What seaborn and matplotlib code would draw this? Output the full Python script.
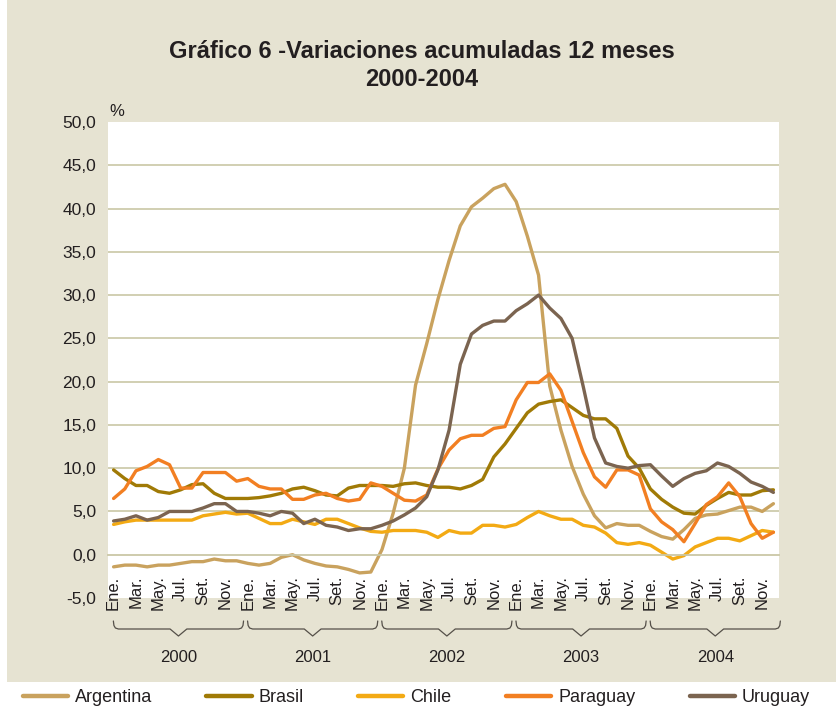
import matplotlib
matplotlib.use("Agg")
import matplotlib.pyplot as plt
from matplotlib.patches import Rectangle
import numpy as np
import pandas as pd
import seaborn as sns

# datos mensuales ene-2000 .. dic-2004 (variación 12 meses, %)
years = ["2000", "2001", "2002", "2003", "2004"]
month_labels = ["Ene.", "Mar.", "May.", "Jul.", "Set.", "Nov."]
y_ticks = [-5, 0, 5, 10, 15, 20, 25, 30, 35, 40, 45, 50]
countries = ["Argentina", "Brasil", "Chile", "Paraguay", "Uruguay"]

argentina = [
    -1.4, -1.2, -1.2, -1.4, -1.2, -1.2, -1.0, -0.8, -0.8, -0.5, -0.7, -0.7,
    -1.0, -1.2, -1.0, -0.3, 0.0, -0.6, -1.0, -1.3, -1.4, -1.7, -2.1, -2.0,
    0.6, 4.8, 10.0, 19.6, 24.4, 29.5, 34.0, 38.0, 40.2, 41.2, 42.3, 42.8,
    40.8, 36.8, 32.3, 19.5, 14.4, 10.2, 7.0, 4.5, 3.1, 3.6, 3.4, 3.4,
    2.7, 2.1, 1.8, 2.9, 4.2, 4.6, 4.7, 5.1, 5.5, 5.5, 5.0, 5.9,
]
brasil = [
    9.8, 8.8, 8.0, 8.0, 7.3, 7.1, 7.5, 8.1, 8.2, 7.1, 6.5, 6.5,
    6.5, 6.6, 6.8, 7.1, 7.6, 7.8, 7.4, 6.9, 6.8, 7.7, 8.0, 8.0,
    8.0, 7.9, 8.2, 8.3, 8.0, 7.8, 7.8, 7.6, 8.0, 8.7, 11.3, 12.8,
    14.6, 16.4, 17.4, 17.7, 17.9, 17.0, 16.1, 15.7, 15.7, 14.6, 11.4, 10.0,
    7.6, 6.4, 5.5, 4.8, 4.7, 5.7, 6.5, 7.2, 6.9, 6.9, 7.4, 7.5,
]
chile = [
    3.5, 3.8, 4.0, 4.0, 4.0, 4.0, 4.0, 4.0, 4.5, 4.7, 4.9, 4.7,
    4.8, 4.2, 3.6, 3.6, 4.1, 3.8, 3.5, 4.1, 4.1, 3.6, 3.1, 2.7,
    2.6, 2.8, 2.8, 2.8, 2.6, 2.0, 2.8, 2.5, 2.5, 3.4, 3.4, 3.2,
    3.5, 4.3, 5.0, 4.5, 4.1, 4.1, 3.4, 3.2, 2.5, 1.4, 1.2, 1.4,
    1.1, 0.3, -0.5, -0.1, 0.9, 1.4, 1.9, 1.9, 1.6, 2.2, 2.8, 2.6,
]
paraguay = [
    6.5, 7.6, 9.7, 10.2, 11.0, 10.4, 7.7, 7.7, 9.5, 9.5, 9.5, 8.5,
    8.8, 7.9, 7.6, 7.6, 6.4, 6.4, 6.9, 7.1, 6.5, 6.2, 6.4, 8.3,
    7.9, 7.1, 6.3, 6.2, 6.9, 9.9, 12.1, 13.4, 13.8, 13.8, 14.6, 14.8,
    17.9, 19.9, 19.9, 20.9, 19.0, 15.4, 11.8, 9.0, 7.8, 9.8, 9.8, 9.2,
    5.3, 3.8, 2.9, 1.5, 3.6, 5.8, 6.7, 8.3, 6.7, 3.6, 1.9, 2.6,
]
uruguay = [
    3.9, 4.1, 4.5, 4.0, 4.3, 5.0, 5.0, 5.0, 5.4, 5.9, 5.9, 5.0,
    5.0, 4.8, 4.5, 5.0, 4.8, 3.6, 4.1, 3.4, 3.2, 2.8, 3.0, 3.0,
    3.4, 3.9, 4.6, 5.4, 6.7, 9.8, 14.4, 22.0, 25.5, 26.5, 27.0, 27.0,
    28.2, 29.0, 30.0, 28.5, 27.3, 25.0, 19.4, 13.5, 10.6, 10.2, 10.0, 10.3,
    10.4, 9.1, 7.9, 8.8, 9.4, 9.7, 10.6, 10.2, 9.4, 8.4, 7.9, 7.2,
]

palette = {
    "Argentina": "#C9A25E",
    "Brasil": "#A07A06",
    "Chile": "#F3AA14",
    "Paraguay": "#F27F22",
    "Uruguay": "#7B6450",
}
BEIGE = "#E6E3D2"
GRID = "#CAC7A6"
TEXT = "#231F20"

n = len(argentina)
df = pd.DataFrame({
    "mes": list(range(n)) * len(countries),
    "valor": argentina + brasil + chile + paraguay + uruguay,
    "pais": np.repeat(countries, n),
})

sns.set_style("white")
plt.rcParams["font.family"] = ["Liberation Sans", "DejaVu Sans"]

W, H = 836, 715
fig = plt.figure(figsize=(W / 100, H / 100), dpi=100, facecolor=BEIGE)
# franja blanca inferior (leyenda) y borde izquierdo
fig.patches.append(Rectangle((0, 0), 1, 33 / H, transform=fig.transFigure,
                             facecolor="white", edgecolor="none", zorder=-1))
fig.patches.append(Rectangle((0, 0), 7 / W, 1, transform=fig.transFigure,
                             facecolor="white", edgecolor="none", zorder=-1))

ax = fig.add_axes([108 / W, 117 / H, 671 / W, 476 / H])
ax.set_facecolor("white")

sns.lineplot(data=df, x="mes", y="valor", hue="pais", palette=palette,
             hue_order=countries, estimator=None, linewidth=2.4, ax=ax,
             legend=True)
handles, labels = ax.get_legend_handles_labels()
ax.get_legend().remove()

for v in y_ticks[2:-1]:
    ax.axhline(v, color=GRID, lw=1.2, zorder=0)

ax.set_xlim(-0.5, n - 0.5)
ax.set_ylim(-5, 50)
for s in ["top", "right", "left"]:
    ax.spines[s].set_visible(False)
ax.spines["bottom"].set_position(("data", 0))
ax.spines["bottom"].set_color(GRID)
ax.spines["bottom"].set_linewidth(1.3)

ax.set_yticks(y_ticks)
ax.set_yticklabels([f"{v:.1f}".replace(".", ",") for v in y_ticks])
ax.tick_params(axis="y", length=3.5, width=1, color=GRID, pad=5,
               labelsize=12.5, labelcolor=TEXT)

ax.set_xticks(range(0, n, 2))
ax.set_xticklabels(month_labels * len(years), rotation=90)
ax.set_xticks(np.arange(-0.5, n, 1), minor=True)
ax.tick_params(axis="x", which="major", length=0, pad=15, labelsize=12,
               labelcolor=TEXT)
ax.tick_params(axis="x", which="minor", length=6, width=1.1, color=GRID)
ax.set_xlabel("")
ax.set_ylabel("")

# llaves por año
trans = ax.get_xaxis_transform()
px = 476.0  # alto del eje en px
def yax(ypix):
    return (598 - ypix) / px

for k, yr in enumerate(years):
    x0 = 12 * k - 0.02
    x1 = 12 * k + 11.62
    xm = (x0 + x1) / 2
    d = 0.45
    xs = [x0, x0 + 0.05, x0 + 0.18, x0 + d, xm - 0.75, xm, xm + 0.75,
          x1 - d, x1 - 0.18, x1 - 0.05, x1]
    ys = [621, 625.5, 628, 629, 629, 636, 629, 629, 628, 625.5, 621]
    ax.plot(xs, [yax(v) for v in ys], transform=trans, color="#555049",
            lw=0.9, clip_on=False)
    ax.text(xm, yax(658), yr, transform=trans, ha="center", va="center",
            fontsize=12, color=TEXT)

fig.text(422 / W, 1 - 52 / H, "Gráfico 6 -Variaciones acumuladas 12 meses",
         ha="center", va="center", fontsize=17, fontweight="bold", color=TEXT)
fig.text(422 / W, 1 - 80 / H, "2000-2004", ha="center", va="center",
         fontsize=17, fontweight="bold", color=TEXT)
fig.text(109 / W, 1 - 112 / H, "%", ha="left", va="center", fontsize=12,
         color=TEXT)

for h in handles:
    h.set_linewidth(3.2)
fig.legend(handles, labels, loc="center", bbox_to_anchor=(0.498, 1 - 698 / H),
           ncol=5, frameon=False, fontsize=13, handlelength=2.5,
           handletextpad=0.4, columnspacing=3.0, labelcolor=TEXT)

fig.savefig("out.png", dpi=100, facecolor=BEIGE)
